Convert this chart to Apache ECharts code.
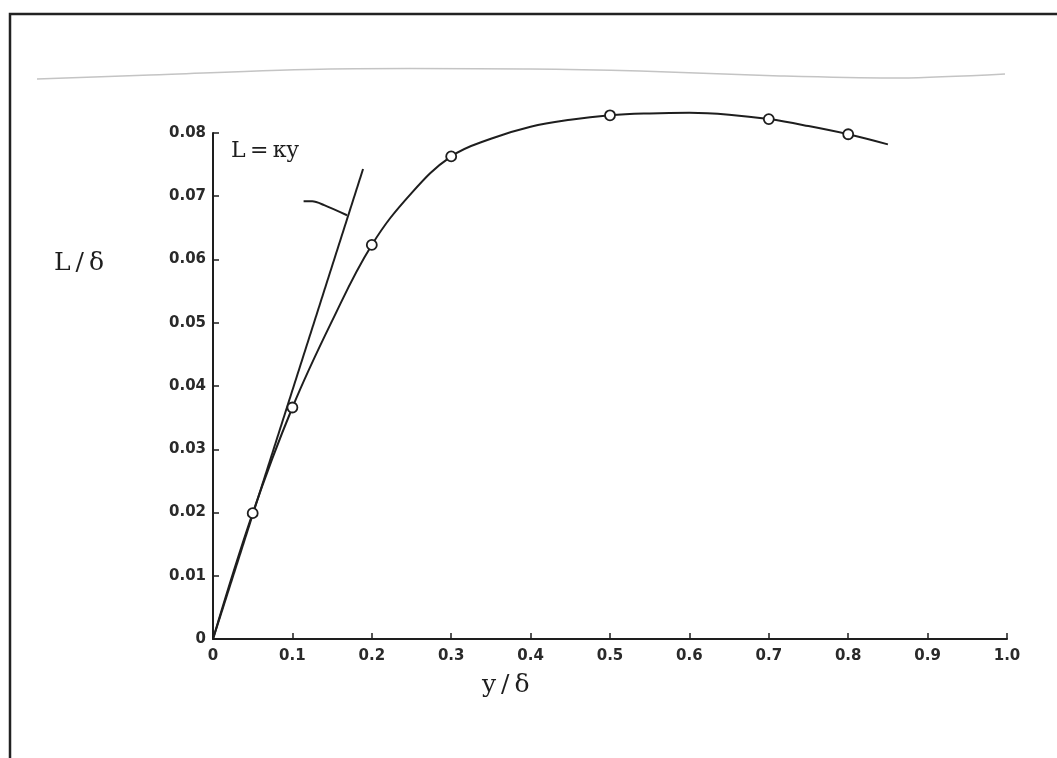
<!DOCTYPE html>
<html>
<head>
<meta charset="utf-8">
<script src="https://cdn.jsdelivr.net/npm/echarts@6/dist/echarts.min.js"></script>
<style>
html,body{margin:0;padding:0;background:#fff;}
#chart{width:1057px;height:758px;}
</style>
</head>
<body>
<div id="chart"></div>
<script>
// Measured points (y/δ, L/δ)
var measuredX = [0.05, 0.1, 0.2, 0.3, 0.5, 0.7, 0.8];
var measuredY = [0.0199, 0.0366, 0.0623, 0.0763, 0.0828, 0.0822, 0.0798];
// Faired curve
var curveX = [0, 0.05, 0.1, 0.15, 0.2, 0.25, 0.3, 0.35, 0.4, 0.45, 0.5, 0.55, 0.6, 0.65, 0.7, 0.75, 0.8, 0.85];
var curveY = [0, 0.0199, 0.0366, 0.0503, 0.0623, 0.0705, 0.0763, 0.0791, 0.0810, 0.0821, 0.0828, 0.0831, 0.0832, 0.0829, 0.0822, 0.0811, 0.0798, 0.0782];
// Mixing-length line L = κy
var kappaX = [0, 0.189];
var kappaY = [0, 0.0743];
// Leader from the label to the line
var leaderX = [0.1141, 0.1250, 0.1400, 0.1688];
var leaderY = [0.0692, 0.0692, 0.0686, 0.0670];
// Tick labels
var xTickLabels = ['0', '0.1', '0.2', '0.3', '0.4', '0.5', '0.6', '0.7', '0.8', '0.9', '1.0'];
var yTickLabels = ['0', '0.01', '0.02', '0.03', '0.04', '0.05', '0.06', '0.07', '0.08'];

function pairs(xs, ys){ return xs.map(function(x,i){ return [x, ys[i]]; }); }

var ink = '#1e1e1e';
var chart = echarts.init(document.getElementById('chart'), null, {renderer:'canvas'});
var tickFont = {fontFamily:'DejaVu Sans', fontSize:15, fontWeight:'bold', color:'#2a2a2a'};

chart.setOption({
  backgroundColor:'#ffffff',
  animation:false,
  grid:{left:213, right:50, top:133, bottom:119, containLabel:false},
  xAxis:{
    type:'value', min:0, max:1, interval:0.1,
    axisLine:{show:true, onZero:false, lineStyle:{color:ink, width:2}},
    axisTick:{show:true, inside:true, length:6, lineStyle:{color:ink, width:1.5}},
    splitLine:{show:false},
    axisLabel:Object.assign({margin:10, formatter:function(v){ return xTickLabels[Math.round(v*10)]; }}, tickFont)
  },
  yAxis:{
    type:'value', min:0, max:0.08, interval:0.01,
    axisLine:{show:true, onZero:false, lineStyle:{color:ink, width:2}},
    axisTick:{show:true, inside:true, length:6, lineStyle:{color:ink, width:1.5}},
    splitLine:{show:false},
    axisLabel:Object.assign({margin:7, formatter:function(v){ return yTickLabels[Math.round(v*100)]; }}, tickFont)
  },
  series:[
    {type:'line', data:pairs(curveX, curveY), smooth:0.4, symbol:'none', clip:false,
     lineStyle:{color:ink, width:2}, z:2},
    {type:'line', data:pairs(kappaX, kappaY), symbol:'none', clip:false,
     lineStyle:{color:ink, width:2}, z:2},
    {type:'line', data:pairs(leaderX, leaderY), smooth:0.3, symbol:'none', clip:false,
     lineStyle:{color:ink, width:2}, z:2},
    {type:'scatter', data:pairs(measuredX, measuredY), symbol:'circle', symbolSize:10, clip:false,
     itemStyle:{color:'#ffffff', borderColor:ink, borderWidth:1.8, opacity:1}, z:5}
  ],
  graphic:[
    {type:'polyline', shape:{points:[[10,758],[10,14],[1057,14]]}, style:{stroke:'#222', lineWidth:2.5, fill:null}, silent:true},
    {type:'polyline', shape:{points:[[37,79],[150,75],[330,69],[530,69],[640,71],[780,76],[900,78],[1005,74]], smooth:0.3}, style:{stroke:'#c4c4c4', lineWidth:1.5, fill:null}, silent:true},
    {type:'text', left:231, top:140, style:{text:'L\u2009=\u2009κy', font:'22px "DejaVu Serif"', fill:ink}},
    {type:'text', left:54, top:251, style:{text:'L\u2009/\u2009δ', font:'25px "DejaVu Serif"', fill:ink}},
    {type:'text', left:482, top:673, style:{text:'y\u2009/\u2009δ', font:'25px "DejaVu Serif"', fill:ink}}
  ]
});
</script>
</body>
</html>
